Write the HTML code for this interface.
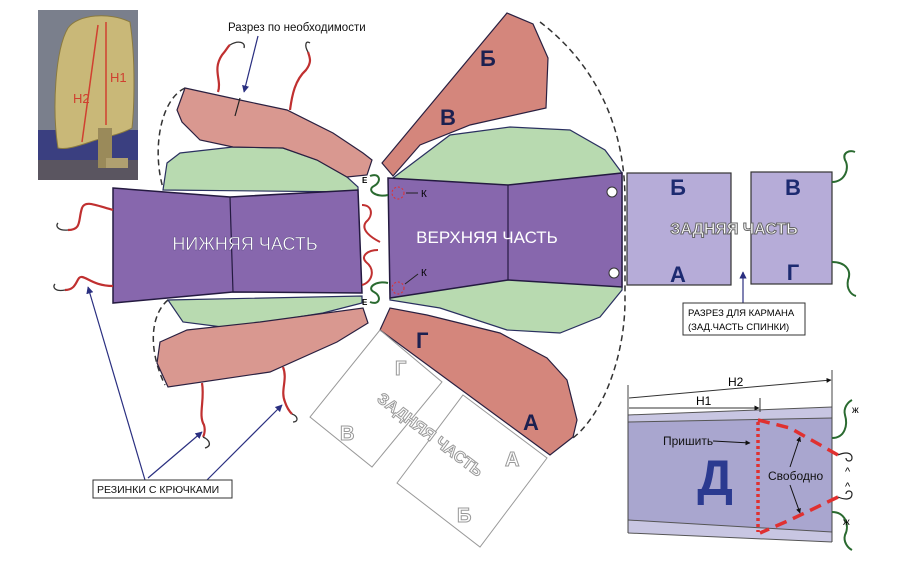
<!DOCTYPE html>
<html><head><meta charset="utf-8"><style>
html,body{margin:0;padding:0;background:#fff}
svg{display:block}
text{font-family:"Liberation Sans",sans-serif}
</style></head><body>
<svg width="900" height="562" viewBox="0 0 900 562" xmlns="http://www.w3.org/2000/svg">
<defs>
<marker id="ar" viewBox="0 0 10 10" refX="9" refY="5" markerWidth="6" markerHeight="6" orient="auto"><path d="M0,0 L10,5 L0,10 z" fill="#2a2f80"/></marker>
<marker id="ak" viewBox="0 0 10 10" refX="9" refY="5" markerWidth="5" markerHeight="5" orient="auto"><path d="M0,0 L10,5 L0,10 z" fill="#111"/></marker>
</defs>
<!-- photo -->
<rect x="38" y="10" width="100" height="170" fill="#7a7f8c"/>
<rect x="38" y="130" width="100" height="50" fill="#3a3f80"/>
<rect x="38" y="160" width="100" height="20" fill="#5a5560"/>
<path d="M58,148 C52,110 55,50 68,28 C78,14 110,12 130,22 C136,60 134,110 132,128 C120,135 100,138 90,142 C78,146 66,150 58,148z" fill="#c9b878" stroke="#8a7a40"/>
<rect x="98" y="128" width="14" height="40" fill="#9a8a5a"/>
<rect x="106" y="158" width="22" height="10" fill="#b0a070"/>
<line x1="98" y1="25" x2="82" y2="142" stroke="#d04030" stroke-width="1.5"/>
<line x1="106" y1="22" x2="106" y2="125" stroke="#d04030" stroke-width="1.5"/>
<text x="73" y="103" font-size="13" fill="#d04030">H2</text>
<text x="110" y="82" font-size="13" fill="#d04030">H1</text>

<!-- dashed outlines -->
<path d="M185,88 C160,100 152,150 163,188" fill="none" stroke="#333" stroke-width="1.5" stroke-dasharray="6,4"/>
<path d="M168,300 C150,315 148,350 165,385" fill="none" stroke="#333" stroke-width="1.5" stroke-dasharray="6,4"/>
<path d="M540,22 C590,60 625,120 625,200 L625,300 C625,360 600,420 570,440" fill="none" stroke="#333" stroke-width="1.5" stroke-dasharray="6,4"/>

<!-- left shapes -->
<path d="M163,190 L167,163 L180,153 L233,147 L283,148 L317,160 L347,177 L358,187 L358,192 Z" fill="#b8dab0" stroke="#2a3060" stroke-width="1.2"/>
<path d="M185,88 L240,100 L287,110 L333,133 L363,153 L372,160 L367,175 L347,177 L317,160 L283,148 L233,147 L200,140 L182,122 L177,110 Z" fill="#d99890" stroke="#2a2040" stroke-width="1.2"/>
<path d="M240,98 L235,116" stroke="#222" stroke-width="1.2"/>
<path d="M168,300 L183,322 L230,328 L323,313 L362,303 L362,296 Z" fill="#b8dab0" stroke="#2a3060" stroke-width="1.2"/>
<path d="M160,342 L187,330 L260,322 L363,308 L368,323 L337,342 L270,372 L168,387 L157,363 Z" fill="#d99890" stroke="#2a2040" stroke-width="1.2"/>
<path d="M113,188 L230,197 L358,190 L362,293 L233,292 L113,303 Z" fill="#8767ad" stroke="#241a40" stroke-width="1.5"/>
<line x1="230" y1="197" x2="233" y2="292" stroke="#241a40" stroke-width="1.2"/>
<text x="245" y="250" font-size="18" fill="#fff" text-anchor="middle" stroke="#5a4a80" stroke-width="0.4">НИЖНЯЯ ЧАСТЬ</text>

<!-- upper middle -->
<path d="M382,163 L507,13 L533,24 L548,58 L546,108 L470,125 L420,145 L393,176 Z" fill="#d4867c" stroke="#2a2040" stroke-width="1.2"/>
<path d="M393,178 L450,135 L510,127 L570,130 L605,150 L622,173 L622,290 L600,317 L560,333 L507,330 L440,308 L390,300 Z" fill="#b8dab0" stroke="#2a3060" stroke-width="1.2"/>
<path d="M388,178 L508,185 L622,173 L622,287 L508,280 L390,298 Z" fill="#8767ad" stroke="#241a40" stroke-width="1.5"/>
<line x1="508" y1="185" x2="508" y2="280" stroke="#241a40" stroke-width="1.2"/>
<circle cx="612" cy="192" r="5" fill="#fff" stroke="#333"/>
<circle cx="614" cy="273" r="5" fill="#fff" stroke="#333"/>
<text x="487" y="243" font-size="17" fill="#fff" text-anchor="middle">ВЕРХНЯЯ ЧАСТЬ</text>
<path d="M380,330 L390,308 L427,315 L500,333 L547,358 L567,380 L577,420 L573,437 L550,455 Z" fill="#d4867c" stroke="#2a2040" stroke-width="1.2"/>
<text x="440" y="125" font-size="22" font-weight="bold" fill="#1c2050">В</text>
<text x="480" y="66" font-size="22" font-weight="bold" fill="#1c2050">Б</text>
<text x="416" y="348" font-size="22" font-weight="bold" fill="#1c2050">Г</text>
<text x="523" y="430" font-size="22" font-weight="bold" fill="#1c2050">А</text>
<!-- K marks -->
<circle cx="398" cy="193" r="6" fill="none" stroke="#e03030" stroke-dasharray="2,2"/>
<circle cx="398" cy="288" r="6" fill="none" stroke="#e03030" stroke-dasharray="2,2"/>
<line x1="418" y1="193" x2="406" y2="193" stroke="#222"/>
<text x="421" y="197" font-size="10">К</text>
<line x1="418" y1="274" x2="405" y2="284" stroke="#222"/>
<text x="421" y="276" font-size="10">К</text>
<text x="362" y="183" font-size="8" font-weight="bold">Е</text>
<text x="362" y="305" font-size="8" font-weight="bold">Е</text>
<path d="M370,176 C380,172 382,182 374,186 C366,190 376,198 388,195" fill="none" stroke="#2a6a30" stroke-width="2"/>
<path d="M370,302 C380,306 382,296 374,292 C366,288 376,280 388,283" fill="none" stroke="#2a6a30" stroke-width="2"/>
<path d="M362,205 C372,205 374,215 366,222 C360,230 372,238 380,242" fill="none" stroke="#c03030" stroke-width="2"/>
<path d="M362,285 C372,282 376,270 366,262 C360,256 368,250 378,250" fill="none" stroke="#c03030" stroke-width="2"/>

<!-- dashed rotated rects -->
<polygon points="380,330 442,382 372,467 310,417" fill="none" stroke="#999" stroke-width="1"/>
<polygon points="463,395 547,458 480,547 397,483" fill="none" stroke="#999" stroke-width="1"/>
<g font-size="20" fill="#fff" stroke="#999" stroke-width="1" font-weight="bold">
<text x="395" y="375">Г</text><text x="340" y="440">В</text><text x="505" y="466">А</text><text x="457" y="522">Б</text>
<text x="430" y="440" text-anchor="middle" font-size="16" transform="rotate(37 430 435)">ЗАДНЯЯ ЧАСТЬ</text>
</g>

<!-- right back rects -->
<rect x="627" y="173" width="104" height="112" fill="#b6acd8" stroke="#333" stroke-width="1.2"/>
<rect x="751" y="172" width="81" height="112" fill="#b6acd8" stroke="#333" stroke-width="1.2"/>
<g font-size="22" font-weight="bold" fill="#1c2a70" text-anchor="middle">
<text x="678" y="195">Б</text><text x="678" y="282">А</text><text x="793" y="195">В</text><text x="793" y="280">Г</text></g>
<text x="734" y="234" font-size="16" font-weight="bold" fill="#fff" stroke="#666" stroke-width="1" text-anchor="middle">ЗАДНЯЯ ЧАСТЬ</text>
<path d="M832,182 C845,182 850,168 845,160 C842,152 850,150 855,152" fill="none" stroke="#2a6a30" stroke-width="2"/>
<path d="M832,262 C845,262 852,270 848,280 C846,290 852,295 856,296" fill="none" stroke="#2a6a30" stroke-width="2"/>
<line x1="743" y1="303" x2="743" y2="272" stroke="#2a2f80" stroke-width="1.2" marker-end="url(#ar)"/>
<rect x="683" y="303" width="122" height="32" fill="#fff" stroke="#333"/>
<text x="688" y="316" font-size="9.5">РАЗРЕЗ ДЛЯ КАРМАНА</text>
<text x="688" y="330" font-size="9.5">(ЗАД.ЧАСТЬ СПИНКИ)</text>

<!-- D panel -->
<polygon points="628,415 832,407 832,542 628,533" fill="#c8c6e2"/>
<polygon points="628,422 832,418 832,532 628,520" fill="#a9a6cf"/>
<line x1="628" y1="415" x2="832" y2="407" stroke="#555"/>
<line x1="628" y1="422" x2="832" y2="418" stroke="#555"/>
<line x1="628" y1="520" x2="832" y2="532" stroke="#555"/>
<line x1="628" y1="533" x2="832" y2="542" stroke="#555"/>
<line x1="628" y1="385" x2="628" y2="533" stroke="#444"/>
<line x1="832" y1="370" x2="832" y2="542" stroke="#444"/>
<line x1="629" y1="398" x2="831" y2="380" stroke="#333" marker-end="url(#ak)"/>
<line x1="629" y1="408" x2="759" y2="408" stroke="#333" marker-end="url(#ak)"/>
<line x1="760" y1="398" x2="760" y2="412" stroke="#333"/>
<text x="728" y="386" font-size="12">H2</text>
<text x="696" y="405" font-size="12">H1</text>
<line x1="758" y1="422" x2="758" y2="532" stroke="#e03030" stroke-width="3.5" stroke-dasharray="3,3"/>
<path d="M758,420 L790,428 L838,455" fill="none" stroke="#e03030" stroke-width="3.5" stroke-dasharray="12,7"/>
<path d="M838,497 L790,520 L760,533" fill="none" stroke="#e03030" stroke-width="3.5" stroke-dasharray="12,7"/>
<text x="663" y="445" font-size="12" fill="#111">Пришить</text>
<line x1="713" y1="441" x2="750" y2="443" stroke="#111" marker-end="url(#ak)"/>
<text x="715" y="495" font-size="50" font-weight="bold" fill="#2b3a90" text-anchor="middle">Д</text>
<text x="768" y="480" font-size="12" fill="#111">Свободно</text>
<line x1="790" y1="467" x2="800" y2="437" stroke="#111" marker-end="url(#ak)"/>
<line x1="790" y1="485" x2="800" y2="513" stroke="#111" marker-end="url(#ak)"/>
<path d="M832,438 C845,438 848,425 845,415 C843,408 848,402 852,400" fill="none" stroke="#2a6a30" stroke-width="2"/>
<path d="M832,512 C845,512 850,525 845,535 C843,542 848,548 852,550" fill="none" stroke="#2a6a30" stroke-width="2"/>
<text x="852" y="413" font-size="10">ж</text><text x="843" y="525" font-size="10">ж</text>
<path d="M838,455 C845,452 852,452 852,458 C852,462 846,462 846,458" fill="none" stroke="#222" stroke-width="1.2"/>
<path d="M838,497 C845,500 852,500 852,494 C852,490 846,490 846,494" fill="none" stroke="#222" stroke-width="1.2"/>
<text x="845" y="475" font-size="11">^</text><text x="845" y="490" font-size="11">^</text>

<!-- red hooks (elastic) -->
<g fill="none" stroke="#c03030" stroke-width="2.2">
<path d="M113,210 C95,205 85,200 82,208 C78,220 82,230 68,230"/>
<path d="M113,286 C95,286 88,278 82,277 C76,276 78,290 65,290"/>
<path d="M218,92 C222,80 212,70 222,55 C228,48 228,46 230,45"/>
<path d="M290,110 C292,95 295,80 306,70 C312,62 310,58 308,52"/>
<path d="M202,383 C205,400 198,415 204,425 C206,432 203,437 203,437"/>
<path d="M283,367 C288,380 280,390 285,402 C287,408 290,412 292,414"/>
</g>
<g fill="none" stroke="#333" stroke-width="1.3">
<path d="M68,230 C58,231 55,226 58,223"/>
<path d="M65,290 C55,292 52,287 55,284"/>
<path d="M230,45 C238,40 246,42 244,48"/>
<path d="M308,52 C304,45 306,40 310,43"/>
<path d="M203,437 C210,440 212,446 205,448"/>
<path d="M292,414 C298,416 299,422 293,422"/>
</g>

<!-- labels / arrows -->
<text x="228" y="31" font-size="11.5" fill="#111">Разрез по необходимости</text>
<line x1="258" y1="36" x2="244" y2="92" stroke="#2a2f80" stroke-width="1.2" marker-end="url(#ar)"/>
<g stroke="#2a2f80" stroke-width="1.2">
<line x1="145" y1="480" x2="88" y2="287" marker-end="url(#ar)"/>
<line x1="148" y1="478" x2="202" y2="432" marker-end="url(#ar)"/>
<line x1="207" y1="480" x2="282" y2="405" marker-end="url(#ar)"/>
</g>
<rect x="93" y="480" width="139" height="18" fill="#fff" stroke="#333"/>
<text x="97" y="493" font-size="10.5" fill="#111">РЕЗИНКИ С КРЮЧКАМИ</text>
</svg>
</body></html>
